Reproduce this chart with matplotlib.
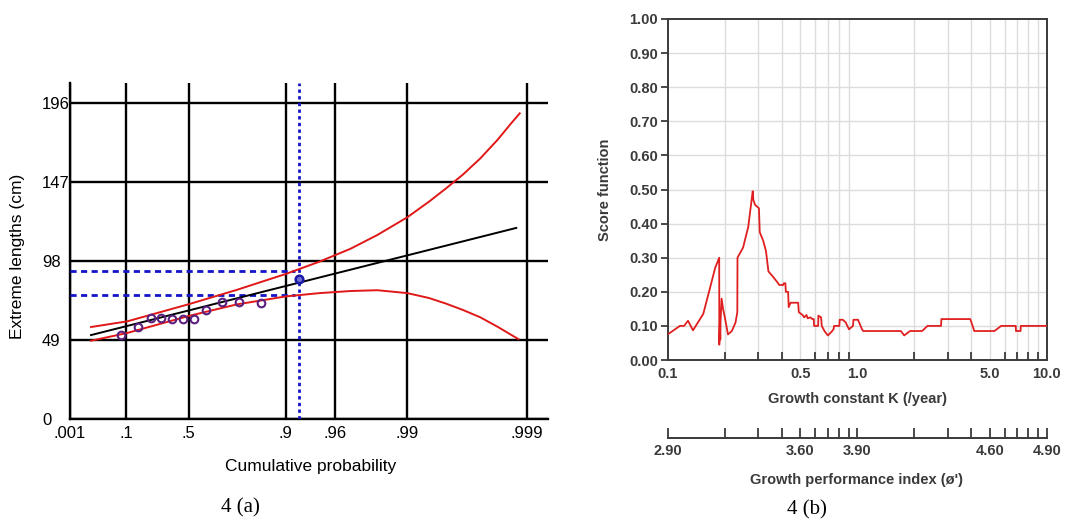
import numpy as np
import matplotlib
matplotlib.use("Agg")
import matplotlib.pyplot as plt

# ---------------- data: panel (a) ----------------
grid_probs = [0.001, 0.1, 0.5, 0.9, 0.96, 0.99, 0.999]
grid_prob_labels = ['.001', '.1', '.5', '.9', '.96', '.99', '.999']
length_ticks = [0, 49, 98, 147, 196]

obs_prob = [0.0791, 0.1585, 0.2362, 0.3093, 0.387, 0.4658, 0.5346, 0.6107, 0.696, 0.7686, 0.8445]
obs_len = [52.0, 57.0, 62.5, 62.7, 62.2, 62.2, 61.8, 67.3, 72.5, 72.2, 71.9]

est_prob = [0.9215]
est_len = [86.6]

fit_prob = [0.0103, 0.99878]
fit_len = [52.0, 118.4]

upper_prob = [0.01034, 0.1033, 0.508, 0.7615, 0.9009, 0.9465, 0.9703, 0.9822, 0.9900,
              0.993395, 0.995263, 0.996598, 0.997557, 0.998245, 0.998654, 0.998860]
upper_len = [57.0, 60.5, 71.3, 80.0, 90.0, 97.5, 105.5, 114.0, 125.0,
             134.6, 142.9, 151.6, 161.5, 172.9, 183.2, 189.4]

lower_prob = [0.01034, 0.1033, 0.508, 0.7615, 0.9009, 0.9465, 0.9703, 0.9822, 0.9900,
              0.993395, 0.995263, 0.996598, 0.997557, 0.998245, 0.99883]
lower_len = [48.5, 53.3, 64.0, 71.0, 76.0, 78.0, 79.3, 79.8, 78.0,
             75.0, 71.5, 67.5, 63.0, 57.2, 49.5]

ci_upper = 91.9
ci_lower = 76.8
dash_end_prob = 0.915

# ---------------- data: panel (b) ----------------
K_vals = [0.100, 0.116, 0.122, 0.128, 0.136, 0.154, 0.167, 0.178, 0.187, 0.1872,
          0.1885, 0.1895, 0.190, 0.1925, 0.196, 0.201, 0.208, 0.218, 0.228, 0.233,
          0.2335, 0.250, 0.266, 0.278, 0.281, 0.283, 0.289, 0.303, 0.306, 0.319,
          0.330, 0.340, 0.361, 0.379, 0.388, 0.407, 0.410, 0.418, 0.420, 0.432,
          0.435, 0.445, 0.488, 0.492, 0.515, 0.525, 0.540, 0.548, 0.565, 0.580,
          0.590, 0.592, 0.622, 0.624, 0.645, 0.650, 0.672, 0.700, 0.730, 0.750,
          0.755, 0.805, 0.808, 0.840, 0.870, 0.905, 0.950, 0.955, 1.010, 1.060,
          1.075, 1.700, 1.770, 1.900, 2.200, 2.350, 2.770, 2.780, 3.950, 4.150,
          5.300, 5.750, 6.870, 6.880, 7.280, 7.300, 10.00]
score_vals = [0.075, 0.100, 0.100, 0.115, 0.087, 0.135, 0.210, 0.270, 0.300, 0.045,
              0.110, 0.060, 0.110, 0.180, 0.150, 0.120, 0.075, 0.085, 0.110, 0.140,
              0.300, 0.330, 0.390, 0.475, 0.495, 0.470, 0.455, 0.445, 0.375, 0.350,
              0.320, 0.260, 0.243, 0.228, 0.220, 0.220, 0.225, 0.225, 0.200, 0.200,
              0.155, 0.168, 0.168, 0.140, 0.132, 0.125, 0.132, 0.122, 0.125, 0.120,
              0.120, 0.100, 0.100, 0.130, 0.125, 0.100, 0.085, 0.072, 0.082, 0.090,
              0.100, 0.100, 0.118, 0.118, 0.110, 0.090, 0.100, 0.118, 0.118, 0.090,
              0.085, 0.085, 0.072, 0.085, 0.085, 0.100, 0.100, 0.120, 0.120, 0.085,
              0.085, 0.100, 0.100, 0.085, 0.085, 0.100, 0.100]

k_label_ticks = [0.1, 0.5, 1.0, 5.0, 10.0]
k_labels = ['0.1', '0.5', '1.0', '5.0', '10.0']
score_ticks = [0.0, 0.1, 0.2, 0.3, 0.4, 0.5, 0.6, 0.7, 0.8, 0.9, 1.0]
phi_labels = ['2.90', '3.60', '3.90', '4.60', '4.90']

# ---------------- figure ----------------
W, H = 1065, 522
fig = plt.figure(figsize=(W / 100, H / 100), dpi=100)
fig.patch.set_facecolor('white')

def fx(px):
    return px / W

def fy(py):
    return 1 - py / H

SANS = 'Liberation Sans'
SERIF = 'Liberation Serif'

# ---- panel (a): Gumbel probability scale ----
def gumbel_fwd(p):
    p = np.clip(np.asarray(p, dtype=float), 1e-12, 1 - 1e-12)
    return -np.log(-np.log(p))

def gumbel_inv(y):
    return np.exp(-np.exp(-np.asarray(y, dtype=float)))

axL = fig.add_axes([fx(69.7), fy(419), fx(548) - fx(69.7), fy(83) - fy(419)])
axL.set_xscale('function', functions=(gumbel_fwd, gumbel_inv))
axL.set_xlim(0.001, 0.99934)
axL.set_ylim(0, 208.2)
axL.set_xticks(grid_probs)
axL.set_xticklabels(grid_prob_labels)
axL.xaxis.set_minor_locator(matplotlib.ticker.NullLocator())
axL.set_yticks(length_ticks)
axL.set_yticklabels([str(v) for v in length_ticks])
axL.grid(True, color='black', linewidth=1.7)
axL.set_axisbelow(True)
for s in ['top', 'right']:
    axL.spines[s].set_visible(False)
for s in ['left', 'bottom']:
    axL.spines[s].set_linewidth(1.7)
axL.tick_params(axis='both', length=0, labelsize=12, colors='black')
axL.tick_params(axis='x', pad=5)
axL.tick_params(axis='y', pad=20)
for lab in axL.get_yticklabels():
    lab.set_horizontalalignment('left')
    lab.set_fontfamily(SANS)
for lab in axL.get_xticklabels():
    lab.set_fontfamily(SANS)

# blue dashed lines
axL.axvline(est_prob[0], color='#1414c8', linewidth=2.0, linestyle=(0, (1.2, 1.2)), zorder=3)
axL.plot([0.001, dash_end_prob], [ci_upper, ci_upper], color='#1414c8', linewidth=2.0,
         linestyle=(0, (2.2, 1.6)), zorder=3)
axL.plot([0.001, dash_end_prob], [ci_lower, ci_lower], color='#1414c8', linewidth=2.0,
         linestyle=(0, (2.2, 1.6)), zorder=3)

axL.plot(upper_prob, upper_len, color='#e01818', linewidth=1.4, zorder=4)
axL.plot(lower_prob, lower_len, color='#e01818', linewidth=1.4, zorder=4)
axL.plot(fit_prob, fit_len, color='black', linewidth=1.4, zorder=4)
axL.plot(obs_prob, obs_len, linestyle='none', marker='o', markersize=5.5,
         markerfacecolor='none', markeredgecolor='#5a2080', markeredgewidth=1.5, zorder=5)
axL.plot(est_prob, est_len, linestyle='none', marker='o', markersize=5.5,
         markerfacecolor='#7070d0', markeredgecolor='#1a1aa8', markeredgewidth=1.8, zorder=5)

fig.text(fx(18), fy(256), 'Extreme lengths (cm)', rotation=90, ha='center', va='center',
         fontsize=12.5, family=SANS)
fig.text(fx(311), fy(466), 'Cumulative probability', ha='center', va='center',
         fontsize=12.5, family=SANS)
fig.text(fx(240), fy(508), '4 (a)', ha='center', va='center', fontsize=15, family=SERIF)

# ---- panel (b) ----
txtc = '#3a3a3a'
axR = fig.add_axes([fx(667.7), fy(360), fx(1046.7) - fx(667.7), fy(19) - fy(360)])
axR.set_xscale('log')
axR.set_xlim(0.1, 10)
axR.set_ylim(0, 1.0)
minor_k = [k * 10.0 ** e for e in (-1, 0) for k in range(2, 10)]
axR.set_xticks(k_label_ticks)
axR.set_xticklabels(k_labels)
axR.set_xticks(minor_k, minor=True)
axR.set_xticklabels([], minor=True)
axR.set_yticks(score_ticks)
axR.set_yticklabels(['%.2f' % v for v in score_ticks])
for v in minor_k:
    axR.axvline(v, color='#dcdcdc', linewidth=1.0, zorder=0)
for v in score_ticks[1:-1]:
    axR.axhline(v, color='#dcdcdc', linewidth=1.0, zorder=0)
for s in axR.spines.values():
    s.set_color('#3a3a3a')
    s.set_linewidth(1.4)
axR.tick_params(axis='x', which='both', direction='in', length=6, width=1.3,
                color='#3a3a3a', labelsize=10.5, labelcolor=txtc, pad=5)
axR.tick_params(axis='x', which='major', length=0)
axR.tick_params(axis='y', direction='out', length=5, width=1.3, color='#3a3a3a',
                labelsize=10.5, labelcolor=txtc, pad=2)
for lab in axR.get_xticklabels() + axR.get_yticklabels():
    lab.set_fontfamily(SANS)
    lab.set_fontweight('bold')
axR.plot(K_vals, score_vals, color='#e02020', linewidth=1.3, zorder=3)
axR.set_xlabel('Growth constant K (/year)', fontsize=10.5, color=txtc, family=SANS,
               fontweight='bold', labelpad=8)
axR.set_ylabel('Score function', fontsize=10.5, color=txtc, family=SANS,
               fontweight='bold', labelpad=12)

# secondary axis: growth performance index
axP = fig.add_axes([fx(667.7), fy(438), fx(1046.7) - fx(667.7), 0.0005])
axP.set_xscale('log')
axP.set_xlim(0.1, 10)
axP.set_ylim(0, 1)
axP.patch.set_visible(False)
for s in ['top', 'left', 'right']:
    axP.spines[s].set_visible(False)
axP.spines['bottom'].set_color('#3a3a3a')
axP.spines['bottom'].set_linewidth(1.4)
axP.set_yticks([])
axP.set_xticks(k_label_ticks)
axP.set_xticklabels(phi_labels)
axP.set_xticks(minor_k, minor=True)
axP.set_xticklabels([], minor=True)
axP.tick_params(axis='x', which='both', direction='in', length=7, width=1.3,
                color='#3a3a3a', labelsize=10.5, labelcolor=txtc, pad=4)
for lab in axP.get_xticklabels():
    lab.set_fontfamily(SANS)
    lab.set_fontweight('bold')
fig.text(fx(857), fy(480), "Growth performance index (\u00f8')", ha='center', va='center',
         fontsize=10.5, color=txtc, family=SANS, fontweight='bold')
fig.text(fx(807), fy(510), '4 (b)', ha='center', va='center', fontsize=15, family=SERIF)

fig.savefig('out.png', dpi=100, facecolor='white')
